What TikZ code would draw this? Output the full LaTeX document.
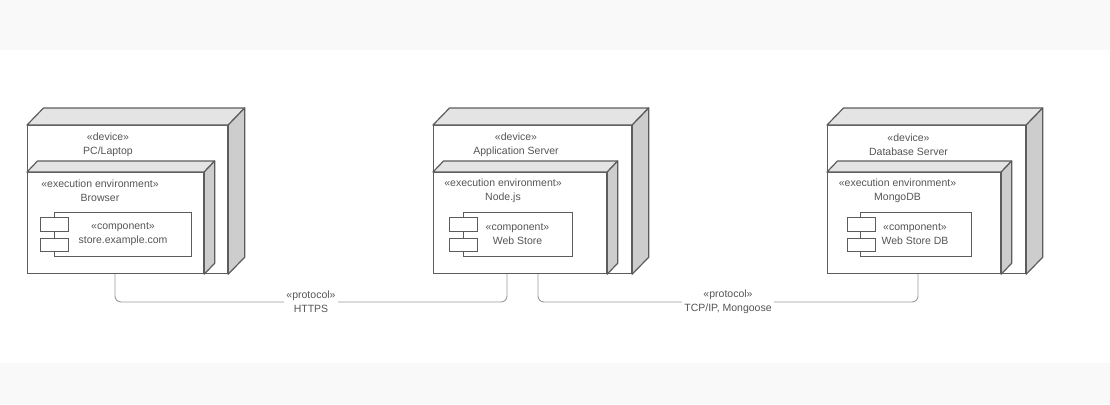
\documentclass[tikz,border=0pt]{standalone}
\usepackage{fontspec}
\setmainfont{Liberation Sans}
\usetikzlibrary{calc}
\definecolor{band}{HTML}{F9F9F9}
\definecolor{edge}{HTML}{5C5C5C}
\definecolor{topf}{HTML}{E4E4E4}
\definecolor{sidef}{HTML}{CDCDCD}
\definecolor{wire}{HTML}{9A9A9A}
\definecolor{txt}{HTML}{555555}
\tikzset{
  front/.style={draw=edge, line width=1.2pt, fill=white, inner sep=0pt, anchor=north west},
  comp/.style={draw=edge, line width=1pt, fill=white, inner sep=0pt, anchor=north west},
  port/.style={draw=edge, line width=1pt, fill=white, inner sep=0pt, anchor=north west, minimum width=28pt, minimum height=13.5pt},
  face/.style={draw=edge, line width=1.2pt, line join=round},
  lbl/.style={text=txt, font=\fontsize{10.5}{14}\selectfont, align=center, inner sep=0pt},
  wirestyle/.style={draw=wire, line width=0.9pt, rounded corners=6pt},
  plbl/.style={lbl, fill=white, inner xsep=2.5pt, inner ysep=0pt},
}
\newcommand{\boxfaces}[3]{%
  \filldraw[face, fill=topf] (#1.north west) -- ++(#2,-#3) -- ($(#1.north east)+(#2,-#3)$) -- (#1.north east) -- cycle;
  \filldraw[face, fill=sidef] (#1.north east) -- ++(#2,-#3) -- ($(#1.south east)+(#2,-#3)$) -- (#1.south east) -- cycle;
}
\begin{document}
\begin{tikzpicture}[x=1pt,y=-1pt]
\useasboundingbox (0,0) rectangle (1110,404);
\fill[band] (0,0) rectangle (1110,50);
\fill[band] (0,363) rectangle (1110,404);

% ---------- PC/Laptop ----------
\node[front, minimum width=200pt, minimum height=148pt] (pc) at (27,125) {};
\boxfaces{pc}{16.5}{17}
\node[lbl] (pcl) at (108,145) {«device»\\PC/Laptop};
\node[front, minimum width=176pt, minimum height=101pt] (br) at (27,172) {};
\boxfaces{br}{10.5}{11}
\node[lbl] (brl) at (100,191) {«execution environment»\\Browser};
\node[comp, minimum width=137pt, minimum height=44pt] (sc) at (54,212) {};
\node[port] (sp1) at (40,217) {};
\node[port] (sp2) at (40,237.5) {};
\node[lbl] (scl) at (123,234.5) {«component»\\store.example.com};

% ---------- Application Server ----------
\node[front, minimum width=198pt, minimum height=148pt] (as) at (433,125) {};
\boxfaces{as}{16.5}{17}
\node[lbl] (asl) at (516,145) {«device»\\Application Server};
\node[front, minimum width=173pt, minimum height=101pt] (nd) at (433,172) {};
\boxfaces{nd}{10.5}{11}
\node[lbl] (ndl) at (503,191) {«execution environment»\\Node.js};
\node[comp, minimum width=109pt, minimum height=44pt] (ws) at (463,212) {};
\node[port] (wp1) at (449,217) {};
\node[port] (wp2) at (449,237.5) {};
\node[lbl] (wsl) at (517.5,234.5) {«component»\\Web Store};

% ---------- Database Server ----------
\node[front, minimum width=198pt, minimum height=148pt] (db) at (827,125) {};
\boxfaces{db}{16.5}{17}
\node[lbl] (dbl) at (908.5,145) {«device»\\Database Server};
\node[front, minimum width=173pt, minimum height=101pt] (mg) at (827,172) {};
\boxfaces{mg}{10.5}{11}
\node[lbl] (mgl) at (897.5,191) {«execution environment»\\MongoDB};
\node[comp, minimum width=111pt, minimum height=44pt] (wd) at (860,212) {};
\node[port] (dp1) at (847,217) {};
\node[port] (dp2) at (847,237.5) {};
\node[lbl] (wdl) at (915,234.5) {«component»\\Web Store DB};

% ---------- connectors ----------
\coordinate (c1) at ($(pc.south west)+(88,0)$);
\coordinate (c2) at ($(as.south west)+(74,0)$);
\coordinate (c3) at ($(as.south west)+(105,0)$);
\coordinate (c4) at ($(db.south west)+(91,0)$);
\draw[wirestyle] (c1) -- (c1 |- 0,302) -- (c2 |- 0,302) -- (c2);
\draw[wirestyle] (c3) -- (c3 |- 0,302) -- (c4 |- 0,302) -- (c4);
\node[plbl] (p1) at (311,302) {«protocol»\\HTTPS};
\node[plbl] (p2) at (728,302) {«protocol»\\TCP/IP, Mongoose};
\end{tikzpicture}
\end{document}
